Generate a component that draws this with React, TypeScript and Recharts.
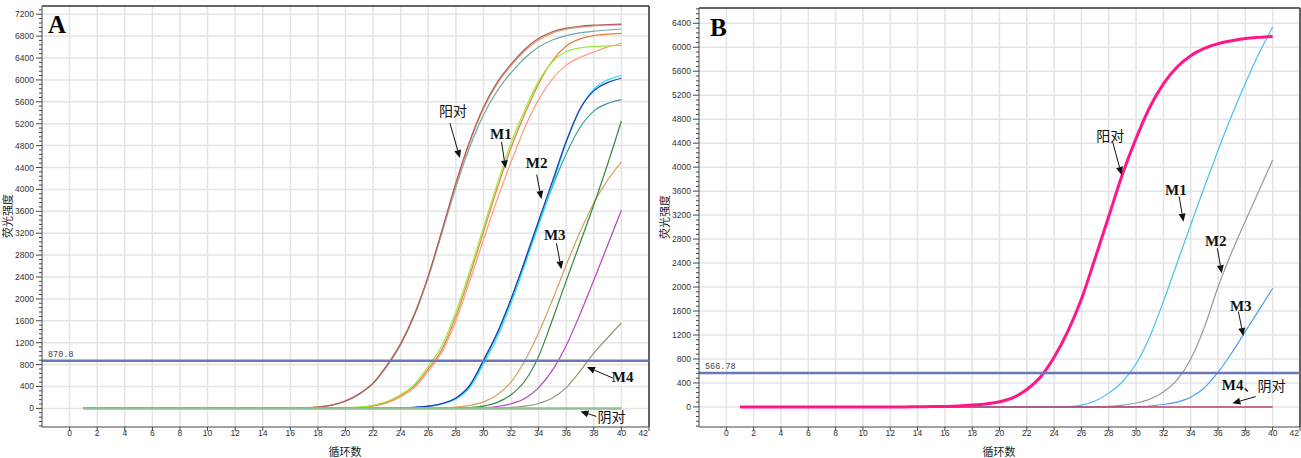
import {
  CartesianGrid,
  Line,
  LineChart,
  ReferenceDot,
  ReferenceLine,
  XAxis,
  YAxis,
} from "recharts";

const cycles = [
  1, 2, 3, 4, 5, 6, 7, 8, 9, 10, 11, 12, 13, 14, 15, 16, 17, 18, 19, 20, 21, 22,
  23, 24, 25, 26, 27, 28, 29, 30, 31, 32, 33, 34, 35, 36, 37, 38, 39, 40,
];

const xTicks = [0, 2, 4, 6, 8, 10, 12, 14, 16, 18, 20, 22, 24, 26, 28, 30, 32, 34, 36, 38, 40, 42];
const yTicksA = [0, 400, 800, 1200, 1600, 2000, 2400, 2800, 3200, 3600, 4000, 4400, 4800, 5200, 5600, 6000, 6400, 6800, 7200];
const yTicksB = [0, 400, 800, 1200, 1600, 2000, 2400, 2800, 3200, 3600, 4000, 4400, 4800, 5200, 5600, 6000, 6400];

// panel A curves (cycle 1..40)
const pcRedA = [0, 0, 0, 0, 0, 0, 0, 0, 0, 0, 0, 0, 0, 0, 2, 5, 10, 25, 60, 135, 265, 460, 780, 1180, 1720, 2420, 3260, 4120, 4880, 5500, 5960, 6290, 6560, 6760, 6880, 6945, 6980, 7000, 7012, 7020];
const pcTanA = [0, 0, 0, 0, 0, 0, 0, 0, 0, 0, 0, 0, 0, 0, 2, 5, 10, 26, 62, 138, 268, 465, 790, 1190, 1725, 2410, 3240, 4090, 4850, 5470, 5930, 6260, 6530, 6730, 6855, 6925, 6965, 6985, 6998, 7005];
const pcTealA = [0, 0, 0, 0, 0, 0, 0, 0, 0, 0, 0, 0, 0, 0, 2, 5, 9, 23, 57, 130, 258, 452, 770, 1165, 1700, 2390, 3210, 4040, 4770, 5360, 5800, 6130, 6400, 6600, 6730, 6810, 6860, 6890, 6912, 6930];
const m1OrangeA = [0, 0, 0, 0, 0, 0, 0, 0, 0, 0, 0, 0, 0, 0, 0, 0, 0, 2, 5, 10, 20, 50, 115, 235, 410, 720, 1080, 1680, 2420, 3220, 4020, 4760, 5380, 5930, 6350, 6620, 6750, 6810, 6835, 6850];
const m1LimeA = [0, 0, 0, 0, 0, 0, 0, 0, 0, 0, 0, 0, 0, 0, 0, 0, 0, 2, 5, 11, 22, 55, 125, 250, 440, 770, 1150, 1760, 2500, 3300, 4100, 4850, 5450, 5980, 6330, 6520, 6585, 6610, 6620, 6630];
const m1SalmonA = [0, 0, 0, 0, 0, 0, 0, 0, 0, 0, 0, 0, 0, 0, 0, 0, 0, 1, 3, 6, 12, 40, 100, 210, 380, 680, 1030, 1600, 2320, 3080, 3820, 4500, 5130, 5640, 6020, 6270, 6410, 6510, 6600, 6670];
const m2BlueA = [0, 0, 0, 0, 0, 0, 0, 0, 0, 0, 0, 0, 0, 0, 0, 0, 0, 0, 0, 0, 0, 2, 5, 10, 20, 40, 90, 190, 420, 880, 1380, 2000, 2700, 3430, 4150, 4880, 5470, 5800, 5950, 6030];
const m2CyanA = [0, 0, 0, 0, 0, 0, 0, 0, 0, 0, 0, 0, 0, 0, 0, 0, 0, 0, 0, 0, 0, 2, 4, 8, 15, 35, 80, 170, 380, 810, 1300, 1920, 2620, 3350, 4080, 4850, 5460, 5830, 6000, 6080];
const m2TealA = [0, 0, 0, 0, 0, 0, 0, 0, 0, 0, 0, 0, 0, 0, 0, 0, 0, 0, 0, 0, 0, 2, 5, 9, 20, 38, 85, 180, 400, 860, 1370, 1990, 2680, 3380, 4050, 4650, 5130, 5430, 5570, 5640];
const m3TanA = [0, 0, 0, 0, 0, 0, 0, 0, 0, 0, 0, 0, 0, 0, 0, 0, 0, 0, 0, 0, 0, 0, 0, 0, 2, 5, 10, 25, 55, 120, 250, 480, 870, 1380, 1980, 2620, 3220, 3750, 4170, 4500];
const m3GreenA = [0, 0, 0, 0, 0, 0, 0, 0, 0, 0, 0, 0, 0, 0, 0, 0, 0, 0, 0, 0, 0, 0, 0, 0, 0, 1, 3, 5, 15, 40, 110, 250, 500, 950, 1620, 2330, 3020, 3720, 4460, 5250];
const m3PurpleA = [0, 0, 0, 0, 0, 0, 0, 0, 0, 0, 0, 0, 0, 0, 0, 0, 0, 0, 0, 0, 0, 0, 0, 0, 0, 0, 1, 3, 5, 12, 35, 85, 180, 380, 700, 1150, 1720, 2340, 2980, 3620];
const m4OliveA = [0, 0, 0, 0, 0, 0, 0, 0, 0, 0, 0, 0, 0, 0, 0, 0, 0, 0, 0, 0, 0, 0, 0, 0, 0, 0, 0, 1, 3, 5, 10, 18, 40, 90, 190, 380, 680, 1010, 1290, 1560];
const ncA = [0, 0, 0, 0, 0, 0, 0, 0, 0, 0, 0, 0, 0, 0, 0, 0, 0, 0, 0, 0, 0, 0, 0, 0, 0, 0, 0, 0, 0, 0, 0, 0, 0, 0, 0, 0, 0, 0, 0, 0];

// panel B curves
const pcPinkB = [0, 0, 0, 0, 0, 0, 0, 0, 0, 0, 0, 0, 0, 2, 5, 9, 17, 30, 50, 85, 155, 290, 500, 830, 1260, 1800, 2480, 3180, 3880, 4480, 5000, 5390, 5670, 5860, 5980, 6060, 6110, 6145, 6165, 6180];
const m1SkyB = [0, 0, 0, 0, 0, 0, 0, 0, 0, 0, 0, 0, 0, 0, 0, 0, 0, 0, 0, 0, 0, 0, 0, 0, 5, 30, 100, 230, 420, 720, 1170, 1760, 2400, 3040, 3670, 4280, 4860, 5400, 5900, 6340];
const m2GrayB = [0, 0, 0, 0, 0, 0, 0, 0, 0, 0, 0, 0, 0, 0, 0, 0, 0, 0, 0, 0, 0, 0, 0, 0, 0, 0, 3, 10, 30, 65, 130, 250, 450, 800, 1330, 2000, 2580, 3100, 3610, 4120];
const m3BlueB = [0, 0, 0, 0, 0, 0, 0, 0, 0, 0, 0, 0, 0, 0, 0, 0, 0, 0, 0, 0, 0, 0, 0, 0, 0, 0, 0, 0, 0, 5, 15, 40, 80, 160, 320, 580, 900, 1260, 1620, 1980];
const ncB = [0, 0, 0, 0, 0, 0, 0, 0, 0, 0, 0, 0, 0, 0, 0, 0, 0, 0, 0, 0, 0, 0, 0, 0, 0, 0, 0, 0, 0, 0, 0, 0, 0, 0, 0, 0, 0, 0, 0, 0];

const thresholdA = 870.8;
const thresholdB = 566.78;

// annotation anchors in data units
const notesA = [
  { text: "阳对", x: 27.8, y: 5448, cjk: true },
  { text: "M1", x: 31.26, y: 5006 },
  { text: "M2", x: 33.86, y: 4491 },
  { text: "M3", x: 35.17, y: 3159 },
  { text: "M4", x: 40.09, y: 569 },
  { text: "阴对", x: 39.29, y: -142, cjk: true },
];
const arrowsA = [
  [27.57, 5211, 28.29, 4573],
  [31.31, 4870, 31.6, 4385],
  [33.86, 4270, 34.2, 3825],
  [35.29, 3017, 35.65, 2543],
  [39.39, 554, 37.5, 755],
  [38.18, -146, 37.03, -55],
];
const notesB = [
  { text: "阳对", x: 28.11, y: 4537, cjk: true },
  { text: "M1", x: 32.91, y: 3620 },
  { text: "M2", x: 35.83, y: 2772 },
  { text: "M3", x: 37.66, y: 1688 },
  { text: "M4、阴对", x: 38.61, y: 367, mixed: true },
];
const arrowsB = [
  [28.28, 4425, 28.94, 3870],
  [33.15, 3508, 33.47, 3091],
  [35.95, 2647, 36.27, 2230],
  [37.49, 1590, 37.85, 1184],
  [38.76, 172, 37.05, 62],
];

const minorTicks = (lo: number, hi: number) =>
  Array.from({ length: Math.floor((hi - lo) / 80) + 1 }, (_, i) => lo + i * 80);

const build = (series: Record<string, number[]>) =>
  cycles.map((c, i) => {
    const row: Record<string, number> = { cycle: c };
    Object.keys(series).forEach((k) => (row[k] = series[k][i]));
    return row;
  });

const dataA = build({
  pcRedA, pcTanA, pcTealA, m1OrangeA, m1LimeA, m1SalmonA, m2BlueA, m2CyanA,
  m2TealA, m3TanA, m3GreenA, m3PurpleA, m4OliveA, ncA,
});
const dataB = build({ pcPinkB, m1SkyB, m2GrayB, m3BlueB, ncB });

const seriesA = [
  { key: "pcTealA", color: "#74a9aa" },
  { key: "pcTanA", color: "#d7a26a" },
  { key: "pcRedA", color: "#b65a5c" },
  { key: "m1SalmonA", color: "#ff9c80" },
  { key: "m1OrangeA", color: "#e8803c" },
  { key: "m1LimeA", color: "#96ec36" },
  { key: "m2TealA", color: "#3d9a9c" },
  { key: "m2CyanA", color: "#19e3f5" },
  { key: "m2BlueA", color: "#2233b0" },
  { key: "m3TanA", color: "#d4a25c" },
  { key: "m3GreenA", color: "#2f8a3c" },
  { key: "m3PurpleA", color: "#b444c4" },
  { key: "m4OliveA", color: "#8c9a76" },
  { key: "ncA", color: "#8fc48f", w: 2.5 },
];

const seriesB = [
  { key: "m3BlueB", color: "#4a9ff2", w: 1.2 },
  { key: "m2GrayB", color: "#9a9a9a", w: 1.2 },
  { key: "m1SkyB", color: "#45c4f2", w: 1.2 },
  { key: "ncB", color: "#c0406c", w: 1.5 },
  { key: "pcPinkB", color: "#ff168a", w: 3 },
];

const YTick = ({ x, y, payload }: any) => {
  const axisX = x + 8;
  const major = payload.value % 400 === 0;
  return (
    <g>
      <line x1={axisX - (major ? 6 : 3)} x2={axisX} y1={y} y2={y} stroke="#444" />
      {major && (
        <text x={x} y={y} dy={3} textAnchor="end" fontSize={8.5} fill="#333" fontFamily="Liberation Sans">
          {payload.value}
        </text>
      )}
    </g>
  );
};

const XTick = ({ x, y, payload }: any) => {
  const last = payload.value === 42;
  return (
    <text
      x={last ? x - 1 : x}
      y={y}
      dy={5}
      textAnchor={last ? "end" : "middle"}
      fontSize={8.5}
      fill="#333"
      fontFamily="Liberation Sans"
    >
      {payload.value}
    </text>
  );
};

const Arrow = (p: any) => {
  const { x1, y1, x2, y2 } = p;
  const dx = x2 - x1;
  const dy = y2 - y1;
  const len = Math.hypot(dx, dy) || 1;
  const ux = dx / len;
  const uy = dy / len;
  const hl = 8;
  const hw = 3.5;
  const bx = x2 - ux * hl;
  const by = y2 - uy * hl;
  return (
    <g>
      <line x1={x1} y1={y1} x2={bx} y2={by} stroke="#111" strokeWidth={1} />
      <polygon
        points={`${x2},${y2} ${bx - uy * hw},${by + ux * hw} ${bx + uy * hw},${by - ux * hw}`}
        fill="#111"
      />
    </g>
  );
};

const noteShape = (n: any) => (p: any) => {
  if (n.mixed) {
    return (
      <text x={p.cx} y={p.cy} textAnchor="middle" dominantBaseline="central" fill="#111">
        <tspan fontFamily="Liberation Serif" fontWeight="bold" fontSize={15}>M4</tspan>
        <tspan fontFamily="Noto Sans CJK SC" fontSize={14}>、阴对</tspan>
      </text>
    );
  }
  return (
    <text
      x={p.cx}
      y={p.cy}
      textAnchor="middle"
      dominantBaseline="central"
      fill="#111"
      fontFamily={n.cjk ? "Noto Sans CJK SC" : "Liberation Serif"}
      fontWeight={n.cjk ? "normal" : "bold"}
      fontSize={n.cjk ? 14 : 15}
    >
      {n.text}
    </text>
  );
};

const thresholdShape = (t: string) => (p: any) => (
  <text x={p.cx + 6} y={p.cy - 3.5} fontSize={8.5} fill="#444" fontFamily="Liberation Mono">
    {t}
  </text>
);

const Panel = ({ data, series, yMin, yMax, yTicks, threshold, thresholdText, notes, arrows, width, margin }: any) => (
  <LineChart width={width} height={458} data={data} margin={margin}>
    <CartesianGrid
      stroke="#e4e4e4"
      strokeWidth={1.5}
      horizontalValues={yTicks}
      verticalValues={xTicks}
    />
    <XAxis
      type="number"
      dataKey="cycle"
      domain={[-2, 42]}
      ticks={xTicks}
      interval={0}
      allowDataOverflow
      tickSize={4}
      tickMargin={0}
      height={20}
      tick={XTick}
      axisLine={{ stroke: "#444" }}
      tickLine={{ stroke: "#444" }}
    />
    <YAxis
      type="number"
      domain={[yMin, yMax]}
      ticks={minorTicks(-320, yMax)}
      interval={0}
      allowDataOverflow
      width={34}
      tickSize={6}
      tickMargin={2}
      tickLine={false}
      tick={YTick}
      axisLine={{ stroke: "#444" }}
    />
    <ReferenceLine y={yMax} stroke="#333" strokeWidth={1.5} ifOverflow="visible" />
    <ReferenceLine x={42} stroke="#333" strokeWidth={1.5} ifOverflow="visible" />
    {series.map((s: any) => (
      <Line
        key={s.key}
        type="monotone"
        dataKey={s.key}
        stroke={s.color}
        strokeWidth={s.w ?? 1.2}
        dot={false}
        isAnimationActive={false}
      />
    ))}
    <ReferenceLine y={threshold} stroke="#6a79b6" strokeWidth={2.5} />
    <ReferenceDot x={-2} y={threshold} r={0} shape={thresholdShape(thresholdText)} ifOverflow="visible" />
    {arrows.map((a: number[], i: number) => (
      <ReferenceLine
        key={`a${i}`}
        segment={[{ x: a[0], y: a[1] }, { x: a[2], y: a[3] }]}
        shape={Arrow}
        ifOverflow="visible"
      />
    ))}
    {notes.map((n: any, i: number) => (
      <ReferenceDot key={`n${i}`} x={n.x} y={n.y} r={0} shape={noteShape(n)} ifOverflow="visible" />
    ))}
  </LineChart>
);

export default function App() {
  return (
    <div style={{ position: "absolute", left: 0, top: 0, width: 1301, height: 458, background: "#fff" }}>
      <div style={{ position: "absolute", left: 0, top: 0 }}>
        <Panel
          data={dataA}
          series={seriesA}
          yMin={-340}
          yMax={7350}
          yTicks={yTicksA}
          threshold={thresholdA}
          thresholdText="870.8"
          notes={notesA}
          arrows={arrowsA}
          width={650}
          margin={{ top: 6, right: 1, left: 8, bottom: 11 }}
        />
      </div>
      <div style={{ position: "absolute", left: 650, top: 0 }}>
        <Panel
          data={dataB}
          series={seriesB}
          yMin={-335}
          yMax={6655}
          yTicks={yTicksB}
          threshold={thresholdB}
          thresholdText="566.78"
          notes={notesB}
          arrows={arrowsB}
          width={651}
          margin={{ top: 8, right: 1, left: 15, bottom: 11 }}
        />
      </div>
      <svg width={1301} height={458} style={{ position: "absolute", left: 0, top: 0, pointerEvents: "none" }}>
        <text x={48} y={33} fontFamily="Liberation Serif" fontWeight="bold" fontSize={25} fill="#000">A</text>
        <text x={710} y={36} fontFamily="Liberation Serif" fontWeight="bold" fontSize={25} fill="#000">B</text>
        <text transform="translate(7,216) rotate(-90)" textAnchor="middle" dominantBaseline="central" fontFamily="Noto Sans CJK SC" fontSize={11} fill="#222">荧光强度</text>
        <text transform="translate(664,217) rotate(-90)" textAnchor="middle" dominantBaseline="central" fontFamily="Noto Sans CJK SC" fontSize={11} fill="#222">荧光强度</text>
        <text x={345} y={451} textAnchor="middle" dominantBaseline="central" fontFamily="Noto Sans CJK SC" fontSize={11} fill="#222">循环数</text>
        <text x={999} y={451} textAnchor="middle" dominantBaseline="central" fontFamily="Noto Sans CJK SC" fontSize={11} fill="#222">循环数</text>
      </svg>
    </div>
  );
}
